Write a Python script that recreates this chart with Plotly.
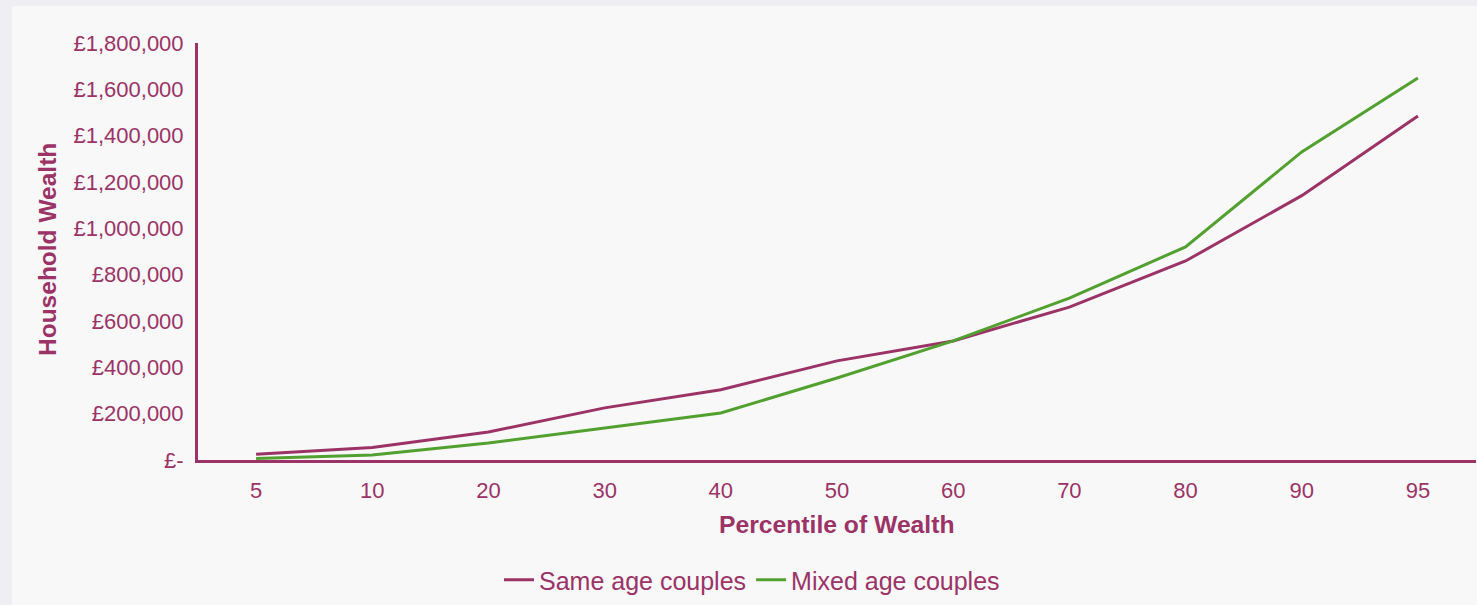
import plotly.graph_objects as go

percentiles = ["5", "10", "20", "30", "40", "50", "60", "70", "80", "90", "95"]
same_age = [25000, 54000, 121000, 225000, 303000, 428000, 514000, 660000, 859000, 1141000, 1485000]
mixed_age = [7000, 22000, 73000, 138000, 203000, 354000, 514000, 699000, 920000, 1330000, 1649000]
y_ticks = [0, 200000, 400000, 600000, 800000, 1000000, 1200000, 1400000, 1600000, 1800000]
y_tick_labels = ["£-", "£200,000", "£400,000", "£600,000", "£800,000", "£1,000,000",
                 "£1,200,000", "£1,400,000", "£1,600,000", "£1,800,000"]

PURPLE = "#9b3366"
GREEN = "#52a02f"
FONT = "Liberation Sans, Arial, Helvetica, sans-serif"

W, H = 1477, 605
ML, MR, MT, MB = 198, 1, 43, 145
PW, PH = W - ML - MR, H - MT - MB

def px_x(x):
    return (x - ML) / PW

def px_y(y):
    return (H - MB - y) / PH

fig = go.Figure()
fig.add_trace(go.Scatter(x=percentiles, y=same_age, mode="lines", name="Same age couples",
                         line=dict(color=PURPLE, width=3)))
fig.add_trace(go.Scatter(x=percentiles, y=mixed_age, mode="lines", name="Mixed age couples",
                         line=dict(color=GREEN, width=3)))

fig.update_layout(
    width=W, height=H,
    margin=dict(l=ML, r=MR, t=MT, b=MB, pad=0),
    paper_bgcolor="#eeeef3",
    plot_bgcolor="#f8f8f8",
    font=dict(family=FONT, color=PURPLE, size=22),
    showlegend=True,
    legend=dict(orientation="h", xref="container", yref="container",
                x=752 / W, xanchor="center", y=(H - 580) / H, yanchor="middle",
                font=dict(size=25, color=PURPLE), bgcolor="rgba(0,0,0,0)",
                itemwidth=30, tracegroupgap=0),
    shapes=[dict(type="rect", xref="paper", yref="paper", layer="below",
                 x0=px_x(12), x1=px_x(W + 5), y0=px_y(H + 5), y1=px_y(6),
                 fillcolor="#f8f8f8", line=dict(width=0))],
    annotations=[
        dict(text="<b>Percentile of Wealth</b>", xref="paper", yref="paper",
             x=px_x(837.5), y=px_y(524), xanchor="center", yanchor="middle",
             showarrow=False, font=dict(size=24.7, color=PURPLE, family=FONT)),
        dict(text="<b>Household Wealth</b>", xref="paper", yref="paper",
             x=px_x(47), y=px_y(250), xanchor="center", yanchor="middle",
             textangle=-90, showarrow=False, font=dict(size=24.5, color=PURPLE, family=FONT)),
    ],
)

fig.update_xaxes(type="category", range=[-0.5, 10.5], showgrid=False, zeroline=False,
                 showline=True, linecolor=PURPLE, linewidth=3, ticks="",
                 ticklabelstandoff=9, tickfont=dict(size=22, color=PURPLE))
fig.update_yaxes(range=[0, 1800000], showgrid=False, zeroline=False,
                 showline=True, linecolor=PURPLE, linewidth=3, ticks="",
                 tickvals=y_ticks, ticktext=y_tick_labels, ticklabelstandoff=7,
                 tickfont=dict(size=22, color=PURPLE))

fig.write_html("out.html")
